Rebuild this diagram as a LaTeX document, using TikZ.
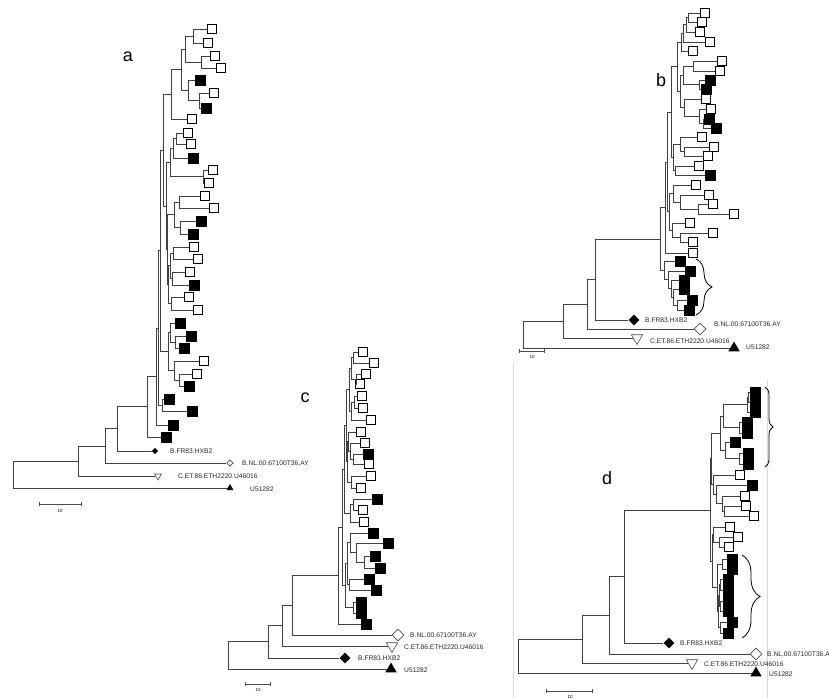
\documentclass[tikz,border=0pt]{standalone}
\usepackage{fontspec}
\setmainfont{Liberation Sans}
\usetikzlibrary{shapes.geometric,arrows.meta,calc,decorations.pathreplacing}

% join two children (#3,#4) at a parent (#1) placed at x=#2, halfway between them
\newcommand\clade[4]{%
  \path let \p1=($(#3)!.5!(#4)$) in coordinate (#1) at (#2pt,\y1);
  \draw[branch] (#1) |- (#3);
  \draw[branch] (#1) |- (#4);
}

\begin{document}
\begin{tikzpicture}[
  x=1pt,y=-1pt,
  branch/.style={draw=black!75,line width=0.8pt},
  osq/.style={draw=black,line width=1.1pt,fill=white,minimum size=9.5pt,inner sep=0pt},
  fsq/.style={draw=black,fill=black,minimum size=10pt,inner sep=0pt},
  fdia/.style={diamond,fill=black,minimum size=11pt,inner sep=0pt},
  odia/.style={diamond,draw=black!70,line width=0.6pt,fill=white,minimum size=12pt,inner sep=0pt},
  otri/.style={regular polygon,regular polygon sides=3,shape border rotate=180,draw=black!70,
    line width=0.6pt,fill=white,minimum size=13pt,inner sep=0pt},
  ftri/.style={regular polygon,regular polygon sides=3,fill=black,minimum size=13pt,inner sep=0pt},
  little/.style={minimum size=6.5pt},
  lbl/.style={anchor=west,inner sep=0pt,text=black!85,font=\fontsize{6.7}{8}\selectfont},
  panel/.style={inner sep=0pt,font=\fontsize{18}{20}\selectfont},
  bar/.style={draw=black!70,line width=0.6pt,{Bar[width=4pt]}-{Bar[width=4pt]}},
  barlbl/.style={inner sep=0pt,font=\fontsize{4.5}{5}\selectfont},
  brc/.style={draw=black,line width=0.8pt,decorate,decoration={brace,amplitude=#1}},
  frame/.style={draw=black!15,line width=0.6pt}
]
\useasboundingbox (0,0) rectangle (829,698);

% panel d frame lines
\coordinate (fl1) at (513,362);
\coordinate (fl2) at (513,698);
\coordinate (fr1) at (767,380);
\coordinate (fr2) at (767,698);
\draw[frame] (fl1) -- (fl2);
\draw[frame] (fr1) -- (fr2);

%% ---------------- a ----------------
\node[panel] (la) at (128,57) {a};
\foreach \n/\x/\y/\s in {1/212/29/osq, 2/208/43/osq, 3/215/56/osq, 4/221/68/osq,
  5/200/80/fsq, 6/214/93/osq, 7/206/108/fsq, 8/192/119/osq, 9/188/133/osq,
  10/191/144/osq, 11/193/158/fsq, 12/213/170/osq, 13/209/183/osq, 14/205/196/osq,
  15/214/208/osq, 16/201/221/fsq, 17/193/234/fsq, 18/194/247/osq, 19/198/259/osq,
  20/190/272/osq, 21/194/285/fsq, 22/189/297/osq, 23/198/310/osq, 24/180/323/fsq,
  25/191/336/fsq, 26/184/348/fsq, 27/204/361/osq, 28/197/374/osq, 29/189/386/fsq,
  30/169/399/fsq, 31/192/411/fsq, 32/173/425/fsq, 33/166/437/fsq}
  \node[\s] (a\n) at (\x,\y) {};
\node[fdia,little] (ahxb) at (155,451) {};
\node[odia,little] (anl) at (230,463) {};
\node[otri,little,minimum size=8pt] (acet) at (158,476) {};
\node[ftri,little,minimum size=8pt] (au51) at (230,488) {};
\node[lbl] (ahxbl) at (170,451) {B.FR83.HXB2};
\node[lbl] (anll) at (242,463) {B.NL.00.67100T36.AY};
\node[lbl] (acetl) at (178,476) {C.ET.86.ETH2220.U46016};
\node[lbl] (au51l) at (250,489) {U51282};
\clade{an1}{193}{a1}{a2}
\clade{an2}{201}{a3}{a4}
\clade{an3}{185}{an1}{an2}
\clade{an4}{199}{a6}{a7}
\clade{an5}{188}{a5}{an4}
\clade{an6}{181}{an3}{an5}
\clade{an7}{171}{an6}{a8}
\clade{an8}{176}{a9}{a10}
\clade{an9}{173}{an8}{a11}
\clade{an10}{203}{a12}{a13}
\clade{an11}{170}{an9}{an10}
\clade{an12}{179}{a14}{a15}
\clade{an13}{180}{a16}{a17}
\clade{an14}{174}{an12}{an13}
\clade{an15}{173}{a18}{a19}
\clade{an16}{172}{a20}{a21}
\clade{an17}{170}{an15}{an16}
\clade{an18}{171}{a22}{a23}
\clade{an19}{168}{an17}{an18}
\clade{an20}{167}{an14}{an19}
\clade{an21}{166}{an11}{an20}
\clade{an22}{163}{an7}{an21}
\clade{an23}{179}{a28}{a29}
\clade{an24}{174}{a27}{an23}
\clade{an25}{175}{a25}{a26}
\clade{an26}{170}{a24}{an25}
\clade{an27}{168}{an26}{an24}
\clade{an28}{160}{an22}{an27}
\clade{an29}{162}{a30}{a31}
\clade{an30}{158}{an28}{an29}
\clade{an31}{156}{an30}{a32}
\clade{an32}{147}{an31}{a33}
\clade{an33}{117}{an32}{ahxb}
\clade{an34}{105}{an33}{anl}
\clade{an35}{78}{an34}{acet}
\clade{an36}{13}{an35}{au51}
\coordinate (asb1) at (39,504);
\coordinate (asb2) at (82,504);
\draw[bar] (asb1) -- (asb2);
\node[barlbl] (asbl) at (60,511) {10};

%% ---------------- b ----------------
\node[panel] (lb) at (661,80) {b};
\foreach \n/\x/\y/\s in {1/705/13/osq, 2/702/22/osq, 3/700/32/osq, 4/710/42/osq,
  5/693/51/osq, 6/722/61/osq, 7/720/71/osq, 8/710/80/fsq, 9/706/89/fsq,
  10/706/99/osq, 11/711/109/osq, 12/709/119/fsq, 13/716/128/fsq, 14/702/137/osq,
  15/714/147/osq, 16/708/156/osq, 17/699/166/osq, 18/710/175/fsq, 19/696/185/osq,
  20/709/195/osq, 21/713/204/osq, 22/734/214/osq, 23/690/223/osq, 24/713/233/osq,
  25/693/242/osq, 26/693/253/osq, 27/680/261/fsq, 28/690/271/fsq, 29/684/280/fsq,
  30/684/289/fsq, 31/692/300/fsq, 32/689/310/fsq}
  \node[\s] (b\n) at (\x,\y) {};
\node[fdia] (bhxb) at (634,320) {};
\node[odia] (bnl) at (700,329) {};
\node[otri] (bcet) at (637,338) {};
\node[ftri] (bu51) at (734,348) {};
\node[lbl] (bhxbl) at (645,320) {B.FR83.HXB2};
\node[lbl] (bnll) at (714,324) {B.NL.00.67100T36.AY};
\node[lbl] (bcetl) at (650,341) {C.ET.86.ETH2220.U46016};
\node[lbl] (bu51l) at (746,347) {U51282};
\clade{bn1}{688}{b1}{b2}
\clade{bn2}{686}{bn1}{b3}
\clade{bn3}{683}{bn2}{b4}
\clade{bn4}{681}{bn3}{b5}
\clade{bn5}{693}{b6}{b7}
\clade{bn6}{699}{b8}{b9}
\clade{bn7}{683}{bn5}{bn6}
\clade{bn8}{703}{b12}{b13}
\clade{bn9}{699}{b11}{bn8}
\clade{bn10}{684}{b10}{bn9}
\clade{bn11}{680}{bn7}{bn10}
\clade{bn12}{677}{bn4}{bn11}
\clade{bn13}{684}{b15}{b16}
\clade{bn14}{680}{b14}{bn13}
\clade{bn15}{675}{b17}{b18}
\clade{bn16}{673}{bn14}{bn15}
\clade{bn17}{671}{bn12}{bn16}
\clade{bn18}{698}{b21}{b22}
\clade{bn19}{680}{b20}{bn18}
\clade{bn20}{673}{b19}{bn19}
\clade{bn21}{680}{b24}{b25}
\clade{bn22}{672}{b23}{bn21}
\clade{bn23}{669}{bn20}{bn22}
\clade{bn24}{667}{bn17}{bn23}
\clade{bn25}{665}{bn24}{b26}
\clade{bn26}{677}{b31}{b32}
\clade{bn27}{673}{b30}{bn26}
\clade{bn28}{671}{b29}{bn27}
\clade{bn29}{668}{b28}{bn28}
\clade{bn30}{664}{b27}{bn29}
\clade{bn31}{660}{bn25}{bn30}
\clade{bn32}{595}{bn31}{bhxb}
\clade{bn33}{587}{bn32}{bnl}
\clade{bn34}{563}{bn33}{bcet}
\clade{bn35}{523}{bn34}{bu51}
\coordinate (bbr1) at (696,259);
\coordinate (bbr2) at (696,315);
\draw[brc=16pt] (bbr1) -- (bbr2);
\coordinate (bsb1) at (519,351);
\coordinate (bsb2) at (545,351);
\draw[bar] (bsb1) -- (bsb2);
\node[barlbl] (bsbl) at (532,357) {10};

%% ---------------- c ----------------
\node[panel] (lc) at (305,398) {c};
\foreach \n/\x/\y/\s in {1/363/352/osq, 2/374/363/osq, 3/366/374/osq, 4/360/384/osq,
  5/362/396/osq, 6/363/408/osq, 7/371/420/osq, 8/361/432/osq, 9/365/443/osq,
  10/368/454/fsq, 11/369/464/osq, 12/371/476/osq, 13/361/488/osq, 14/377/499/fsq,
  15/363/510/osq, 16/364/522/osq, 17/373/533/fsq, 18/388/543/fsq, 19/375/556/fsq,
  20/380/568/fsq, 21/369/579/fsq, 22/376/590/fsq, 23/361/602/fsq, 24/361/613/fsq,
  25/366/624/fsq}
  \node[\s] (c\n) at (\x,\y) {};
\node[odia] (cnl) at (398,635) {};
\node[otri] (ccet) at (392,646) {};
\node[fdia] (chxb) at (345,658) {};
\node[ftri] (cu51) at (391,669) {};
\node[lbl] (cnll) at (410,635) {B.NL.00.67100T36.AY};
\node[lbl] (ccetl) at (404,647) {C.ET.86.ETH2220.U46016};
\node[lbl] (chxbl) at (358,658) {B.FR83.HXB2};
\node[lbl] (cu51l) at (404,670) {U51282};
\clade{cn1}{353}{c1}{c2}
\clade{cn2}{356}{c3}{c4}
\clade{cn3}{351}{cn1}{cn2}
\clade{cn4}{354}{c5}{c6}
\clade{cn5}{351}{cn4}{c7}
\clade{cn6}{349}{cn3}{cn5}
\clade{cn7}{353}{c10}{c11}
\clade{cn8}{350}{c9}{cn7}
\clade{cn9}{348}{c8}{cn8}
\clade{cn10}{351}{c12}{c13}
\clade{cn11}{347}{cn9}{cn10}
\clade{cn12}{353}{c14}{c15}
\clade{cn13}{350}{cn12}{c16}
\clade{cn14}{364}{c19}{c20}
\clade{cn15}{356}{c18}{cn14}
\clade{cn16}{350}{c17}{cn15}
\clade{cn17}{349}{c21}{c22}
\clade{cn18}{347}{cn16}{cn17}
\clade{cn19}{353}{c23}{c24}
\clade{cn20}{345}{cn18}{cn19}
\clade{cn21}{346}{cn6}{cn11}
\clade{cn22}{344}{cn21}{cn13}
\clade{cn23}{342}{cn22}{cn20}
\clade{cn24}{338}{cn23}{c25}
\clade{cn25}{292}{cn24}{cnl}
\clade{cn26}{282}{cn25}{ccet}
\clade{cn27}{268}{cn26}{chxb}
\clade{cn28}{228}{cn27}{cu51}
\coordinate (csb1) at (245,684);
\coordinate (csb2) at (271,684);
\draw[bar] (csb1) -- (csb2);
\node[barlbl] (csbl) at (258,690) {10};

%% ---------------- d ----------------
\node[panel] (ld) at (607,478) {d};
\foreach \n/\x/\y/\s in {1/755/392/fsq, 2/755/402/fsq, 3/755/412/fsq, 4/747/422/fsq,
  5/747/433/fsq, 6/735/442/fsq, 7/748/453/fsq, 8/748/464/fsq, 9/740/475/osq,
  10/752/485/fsq, 11/745/496/osq, 12/746/506/osq, 13/754/516/osq, 14/730/527/osq,
  15/738/537/osq, 16/729/547/osq, 17/732/559/fsq, 18/732/569/fsq, 19/728/579/fsq,
  20/728/590/fsq, 21/728/601/fsq, 22/728/611/fsq, 23/732/622/fsq, 24/728/633/fsq}
  \node[\s] (d\n) at (\x,\y) {};
\node[fdia] (dhxb) at (669,643) {};
\node[odia] (dnl) at (756,654) {};
\node[otri] (dcet) at (692,663) {};
\node[ftri] (du51) at (756,673) {};
\node[lbl] (dhxbl) at (680,643) {B.FR83.HXB2};
\node[lbl] (dnll) at (767,654) {B.NL.00.67100T36.A};
\node[lbl] (dcetl) at (704,664) {C.ET.86.ETH2220.U46016};
\node[lbl] (du51l) at (769,674) {U51282};
\clade{dn1}{748}{d1}{d2}
\clade{dn2}{747}{dn1}{d3}
\clade{dn3}{739}{d4}{d5}
\clade{dn4}{723}{dn2}{dn3}
\clade{dn5}{739}{d7}{d8}
\clade{dn6}{725}{d6}{dn5}
\clade{dn7}{720}{dn4}{dn6}
\clade{dn8}{724}{d12}{d13}
\clade{dn9}{722}{d11}{dn8}
\clade{dn10}{716}{d10}{dn9}
\clade{dn11}{713}{d9}{dn10}
\clade{dn12}{711}{dn7}{dn11}
\clade{dn13}{719}{d15}{d16}
\clade{dn14}{713}{d14}{dn13}
\clade{dn15}{722}{d17}{d18}
\clade{dn16}{720}{d19}{d20}
\clade{dn17}{720}{d21}{d22}
\clade{dn18}{719}{dn16}{dn17}
\clade{dn19}{720}{d23}{d24}
\clade{dn20}{718}{dn18}{dn19}
\clade{dn21}{717}{dn15}{dn20}
\clade{dn22}{712}{dn14}{dn21}
\clade{dn23}{710}{dn12}{dn22}
\clade{dn24}{624}{dn23}{dhxb}
\clade{dn25}{609}{dn24}{dnl}
\clade{dn26}{582}{dn25}{dcet}
\clade{dn27}{518}{dn26}{du51}
\coordinate (dbr1) at (765,387);
\coordinate (dbr2) at (765,467);
\draw[brc=8pt] (dbr1) -- (dbr2);
\coordinate (dbr3) at (742,555);
\coordinate (dbr4) at (742,638);
\draw[brc=18pt] (dbr3) -- (dbr4);
\coordinate (dsb1) at (546,691);
\coordinate (dsb2) at (593,691);
\draw[bar] (dsb1) -- (dsb2);
\node[barlbl] (dsbl) at (570,697) {10};
\end{tikzpicture}
\end{document}
